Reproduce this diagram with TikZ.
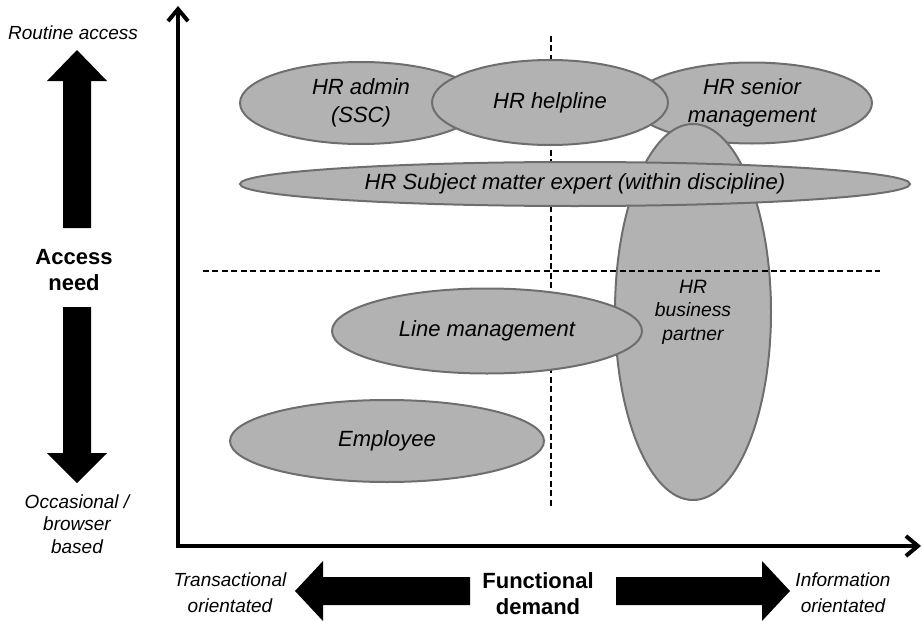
\documentclass[tikz,border=0pt]{standalone}
\usepackage{fontspec}
\setmainfont{Liberation Sans}
\usetikzlibrary{arrows.meta,shapes.geometric}
\definecolor{blobgray}{RGB}{178,178,178}
\definecolor{ringgray}{RGB}{110,110,110}
\begin{document}
\begin{tikzpicture}[x=0.75pt,y=-0.75pt,
  % role ellipse: #1 = half width, #2 = half height (in px units)
  role/.style 2 args={ellipse, draw=ringgray, fill=blobgray, line width=1.5pt,
    inner sep=0pt, minimum width=#1*1.5pt, minimum height=#2*1.5pt,
    align=center, font=\fontsize{16.5}{21}\selectfont\itshape},
  sidelabel/.style={align=center, inner sep=0pt, font=\fontsize{14.25}{17}\selectfont\itshape},
  widelabel/.style={align=center, inner sep=0pt, font=\fontsize{14.25}{19.5}\selectfont\itshape},
  heading/.style={align=center, inner sep=0pt, font=\fontsize{16.5}{19.5}\selectfont\bfseries},
  axis/.style={line width=3pt, black, miter limit=10,
    {Straight Barb[length=9pt,width=15pt]}-{Straight Barb[length=9pt,width=15pt]}},
  divider/.style={line width=1.5pt, black, dash pattern=on 4.5pt off 2.6pt},
  bigarrow/.style={fill=black}
]
\useasboundingbox (0,0) rectangle (922,621);

% axes
\coordinate (ytip) at (178,6);
\coordinate (origin) at (178,546);
\coordinate (xtip) at (921,546);
\draw[axis] (ytip) -- (origin) -- (xtip);

% vertical quadrant divider (behind the roles)
\coordinate (vtop) at (551,36);
\coordinate (vbot) at (551,507);
\draw[divider] (vtop) -- (vbot);

% roles
\node[role={121}{41}] (admin) at (361,103) {HR admin\\(SSC)};
\node[role={120}{40.5}] (senior) at (752,103) {HR senior\\management};
\node[role={118}{42.5}] (helpline) at (550,102.5) {HR helpline};
\node[role={78}{188}, font=\fontsize{14.5}{17.6}\selectfont\itshape] (bp) at (693,312) {HR\\business\\partner};
\node[role={335}{22}] (sme) at (575,184) {HR Subject matter expert (within discipline)};
\node[role={155}{42.5}] (line) at (487,331) {Line management};
\node[role={157}{41}] (employee) at (387,441) {Employee};

% horizontal quadrant divider
\coordinate (hleft) at (203,271);
\coordinate (hright) at (880,271);
\draw[divider] (hleft) -- (hright);

% access need scale
\node[sidelabel] (routine) at (73,33) {Routine access};
\fill[bigarrow] (77,50) -- (107,81) -- (91,81) -- (91,228) -- (63,228) -- (63,81) -- (47,81) -- cycle;
\node[heading, font=\fontsize{16.5}{19.5}\selectfont\bfseries] (access) at (74,270) {Access\\need};
\fill[bigarrow] (77,483) -- (107,453) -- (91,453) -- (91,307) -- (63,307) -- (63,453) -- (47,453) -- cycle;
\node[sidelabel] (occasional) at (77,524) {Occasional /\\browser\\based};

% functional demand scale
\node[widelabel] (trans) at (230,593) {Transactional\\orientated};
\fill[bigarrow] (295,591) -- (323,561) -- (323,577) -- (470,577) -- (470,605) -- (323,605) -- (323,621) -- cycle;
\node[heading] (functional) at (538,594) {Functional\\demand};
\fill[bigarrow] (790,591) -- (762,561) -- (762,577) -- (616,577) -- (616,605) -- (762,605) -- (762,621) -- cycle;
\node[widelabel] (info) at (843,593) {Information\\orientated};
\end{tikzpicture}
\end{document}
